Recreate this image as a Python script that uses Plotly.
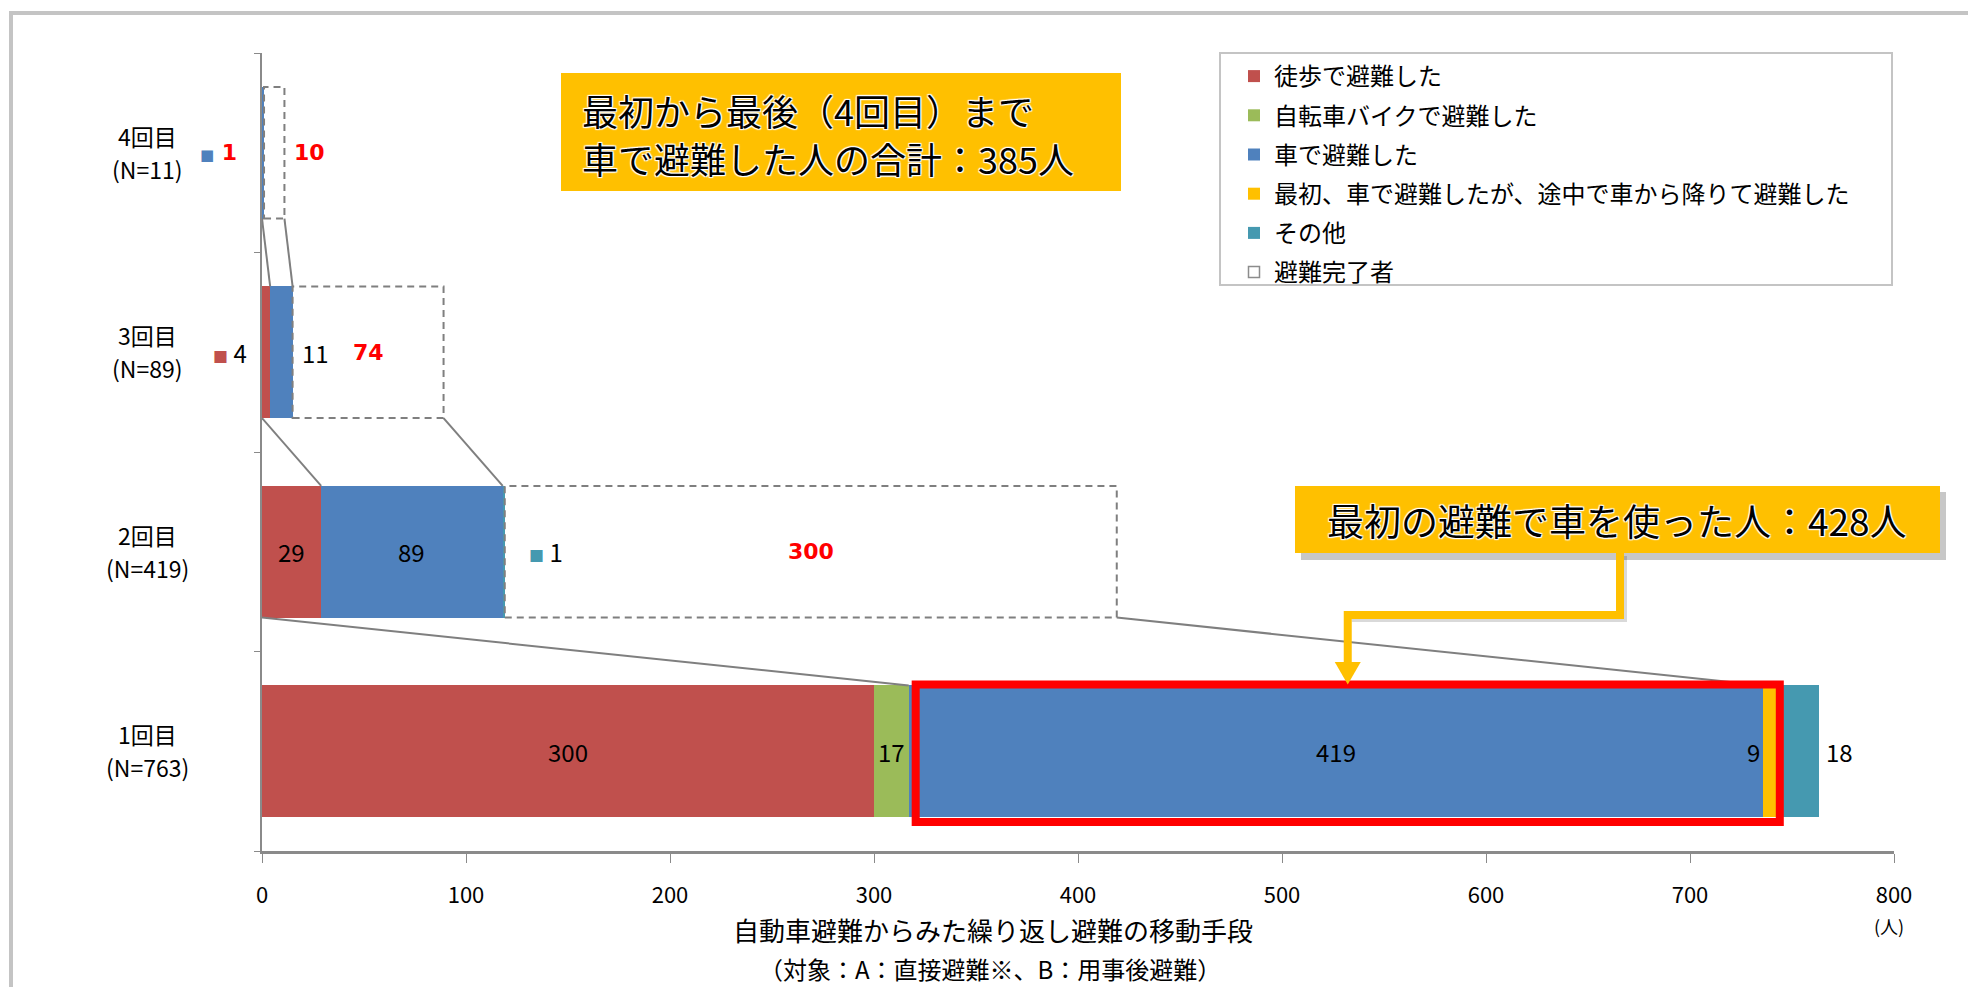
import numpy as np
import plotly.graph_objects as go

# ---- data -------------------------------------------------------------
rounds = ["1回目", "2回目", "3回目", "4回目"]
round_n = ["(N=763)", "(N=419)", "(N=89)", "(N=11)"]

walk = [300, 29, 4, 0]           # 徒歩で避難した
bike = [17, 0, 0, 0]             # 自転車バイクで避難した
car = [419, 89, 11, 1]           # 車で避難した
car_then_walk = [9, 0, 0, 0]     # 最初、車で避難したが、途中で車から降りて避難した
other = [18, 1, 0, 0]            # その他
completed = [0, 300, 74, 10]     # 避難完了者

series_names = [
    "徒歩で避難した",
    "自転車バイクで避難した",
    "車で避難した",
    "最初、車で避難したが、途中で車から降りて避難した",
    "その他",
    "避難完了者",
]
series_colors = ["#C0504D", "#9BBB59", "#4F81BD", "#FFC000", "#4599B0", "#FFFFFF"]

x_ticks = [0, 100, 200, 300, 400, 500, 600, 700, 800]
x_unit = "(人)"
axis_title = "自動車避難からみた繰り返し避難の移動手段"
axis_subtitle = "（対象：A：直接避難※、B：用事後避難）"
car_total_all_rounds = 385

# ---- geometry helpers -----------------------------------------------------
FIG_W, FIG_H = 1968, 987
L, R, T, B = 262, 74, 53, 136
W, H = FIG_W - L - R, FIG_H - T - B
X_MAX = 800
Y_RANGE = (-0.5, 3.5)
BW = 0.66
FONT = "Noto Sans CJK JP"
GRAY = "#7F7F7F"


def paper_x(px):
    return (px - L) / W


def paper_y(py):
    return (T + H - py) / H


def data_x(px):
    return (px - L) / W * X_MAX


def data_y(py):
    return Y_RANGE[0] + (T + H - py) / H * (Y_RANGE[1] - Y_RANGE[0])


def px_to_dx(n):
    return n / W * X_MAX


def px_to_dy(n):
    return n / H * (Y_RANGE[1] - Y_RANGE[0])


ypos = list(range(len(rounds)))
stack = np.array([walk, bike, car, car_then_walk, other, completed], dtype=float)
starts = np.cumsum(stack, axis=0) - stack
totals = stack.sum(axis=0)

fig = go.Figure()

# ---- stacked bars ---------------------------------------------------------
for k, (vals, name, color) in enumerate(zip(stack, series_names, series_colors)):
    fig.add_trace(go.Bar(
        y=ypos, x=vals, orientation="h", name=name, width=BW,
        marker=dict(color=color, line=dict(width=0)),
        legendgroup=f"g{k}",
        showlegend=(k < 5), hoverinfo="skip",
    ))

# legend entry for the dashed "completed" boxes
fig.add_trace(go.Scatter(
    x=[None], y=[None], mode="markers", name=series_names[5], legendgroup="g5b",
    marker=dict(symbol="square-open", size=11, color="#8C8C8C", line=dict(width=1.5)),
))

shapes = []

# outer frame of the chart area
shapes.append(dict(type="rect", xref="paper", yref="paper",
                   x0=paper_x(11), x1=paper_x(2100), y0=paper_y(1100), y1=paper_y(13),
                   line=dict(color="#C4C4C4", width=4), layer="below"))

# dashed outlines for evacuees who have finished
for i in ypos:
    if completed[i] > 0:
        x0 = starts[5][i]
        shapes.append(dict(type="rect", xref="x", yref="y",
                           x0=x0, x1=x0 + completed[i], y0=i - BW / 2, y1=i + BW / 2,
                           line=dict(color=GRAY, width=2, dash="7px,5px")))

# connector lines: each round's total links to the previous round's car segment
for i in ypos[:-1]:
    up = i + 1
    c0 = starts[2][i]
    c1 = c0 + car[i]
    for xa, xb in ((0, c0), (totals[up], c1)):
        shapes.append(dict(type="line", xref="x", yref="y",
                           x0=xa, y0=up - BW / 2, x1=xb, y1=i + BW / 2,
                           line=dict(color="#7F7F7F", width=2)))

# red frame around first-round car users
red_x0 = starts[2][0] + px_to_dx(7)
red_x1 = starts[3][0] + car_then_walk[0] - px_to_dx(2)
red_y0 = -BW / 2 - px_to_dy(5)
red_y1 = BW / 2 + px_to_dy(1)
shapes.append(dict(type="rect", xref="x", yref="y",
                   x0=red_x0, x1=red_x1, y0=red_y0, y1=red_y1,
                   line=dict(color="#FF0000", width=8)))

# top note box
shapes.append(dict(type="rect", xref="paper", yref="paper",
                   x0=paper_x(561), x1=paper_x(1121), y0=paper_y(191), y1=paper_y(73),
                   fillcolor="#FFC000", line=dict(width=0)))

# call-out box with its shadow
shapes.append(dict(type="rect", xref="paper", yref="paper",
                   x0=paper_x(1301), x1=paper_x(1946), y0=paper_y(560), y1=paper_y(492),
                   fillcolor="rgba(0,0,0,0.22)", line=dict(width=0)))
shapes.append(dict(type="rect", xref="paper", yref="paper",
                   x0=paper_x(1295), x1=paper_x(1940), y0=paper_y(553), y1=paper_y(486),
                   fillcolor="#FFC000", line=dict(width=0)))

# elbow connector from the call-out to the red frame
tip_x = (red_x0 + red_x1) / 2
elbow_x = data_x(1620)
shaft = (f"M{elbow_x},{data_y(553)} V{data_y(615)} H{tip_x} V{data_y(664)}")
shadow = (f"M{elbow_x + px_to_dx(4)},{data_y(556)} V{data_y(619)} "
          f"H{tip_x + px_to_dx(4)}")
shapes.append(dict(type="path", xref="x", yref="y", path=shadow,
                   line=dict(color="rgba(0,0,0,0.15)", width=6)))
shapes.append(dict(type="path", xref="x", yref="y", path=shaft,
                   line=dict(color="#FFC000", width=8)))
hw = px_to_dx(13)
shapes.append(dict(type="path", xref="x", yref="y",
                   path=(f"M{tip_x - hw},{data_y(662)} L{tip_x + hw},{data_y(662)} "
                         f"L{tip_x},{red_y1} Z"),
                   fillcolor="#FFC000", line=dict(width=0)))

# legend frame
shapes.append(dict(type="rect", xref="paper", yref="paper",
                   x0=paper_x(1220), x1=paper_x(1892), y0=paper_y(285), y1=paper_y(53),
                   line=dict(color="#C4C4C4", width=2), fillcolor="rgba(0,0,0,0)"))

# ---- annotations ----------------------------------------------------------
ann = []
LABEL_SIZE = 24
RED = "#FF0000"
RED_FONT = "DejaVu Sans"


def label(x, y, text, color="black", xanchor="center", xshift=0, size=LABEL_SIZE,
          family=FONT, weight="normal"):
    ann.append(dict(x=x, y=y, xref="x", yref="y", text=text, showarrow=False,
                    xanchor=xanchor, yanchor="middle", xshift=xshift,
                    font=dict(family=family, size=size, color=color, weight=weight)))


def square(color):
    return f"<span style='font-size:15px;font-weight:normal;fill:{color}'>■</span> "


def mid(k, i):
    return starts[k][i] + stack[k][i] / 2


# round 1
label(mid(0, 0), 0, f"{walk[0]}")
label(mid(1, 0), 0, f"{bike[0]}")
label(mid(2, 0), 0, f"{car[0]}")
label(starts[3][0], 0, f"{car_then_walk[0]}", xanchor="right", xshift=-1)
label(starts[4][0] + other[0], 0, f"{other[0]}", xanchor="left", xshift=5)
# round 2
label(mid(0, 1), 1, f"{walk[1]}")
label(mid(2, 1), 1, f"{car[1]}")
label(starts[4][1] + other[1], 1, square(series_colors[4]) + f"{other[1]}",
      xanchor="left", xshift=22)
label(mid(5, 1), 1, f"{completed[1]}", color=RED, family=RED_FONT, size=22, weight="bold")
# round 3
label(0, 2, square(series_colors[0]) + f"{walk[2]}", xanchor="right", xshift=-13)
label(starts[2][2] + car[2], 2, f"{car[2]}", xanchor="left", xshift=7)
label(mid(5, 2), 2, f"{completed[2]}", color=RED, family=RED_FONT, size=22, weight="bold")
# round 4
label(0, 3, square(series_colors[2]) + f"<span style='fill:{RED}'>{car[3]}</span>",
      xanchor="right", xshift=-23, family=RED_FONT, size=22, weight="bold")
label(starts[5][3] + completed[3], 3, f"{completed[3]}", xanchor="left", xshift=8,
      color=RED, family=RED_FONT, size=22, weight="bold")

# round labels on the category axis
for i, (r, n) in enumerate(zip(rounds, round_n)):
    for txt, dy in ((r, 17), (n, -16)):
        ann.append(dict(x=paper_x(147), y=i, xref="paper", yref="y", text=txt,
                        showarrow=False, xanchor="center", yanchor="middle", yshift=dy,
                        font=dict(family=FONT, size=23, color="black")))

halo = ("1px 1px 1px #fff, -1px -1px 1px #fff, 1px -1px 1px #fff, "
        "-1px 1px 1px #fff, 0 0 2px #fff")

# note boxes
note_lines = [("最初から最後（4回目）まで", 110),
              (f"車で避難した人の合計：{car_total_all_rounds}人", 158)]
for txt, py in note_lines:
    ann.append(dict(x=paper_x(580), y=paper_y(py), xref="paper", yref="paper",
                    text=txt, showarrow=False, xanchor="left", yanchor="middle",
                    font=dict(family=FONT, size=36, color="black", shadow=halo)))
ann.append(dict(x=paper_x(1617), y=paper_y(520), xref="paper", yref="paper",
                text=f"最初の避難で車を使った人：{car[0] + car_then_walk[0]}人",
                showarrow=False, xanchor="center", yanchor="middle",
                font=dict(family=FONT, size=37, color="black", shadow=halo)))

# axis titles
ann.append(dict(x=paper_x(993), y=paper_y(929), xref="paper", yref="paper",
                text=axis_title, showarrow=False, xanchor="center", yanchor="middle",
                font=dict(family=FONT, size=26, color="black")))
ann.append(dict(x=paper_x(990), y=paper_y(968), xref="paper", yref="paper",
                text=axis_subtitle, showarrow=False, xanchor="center", yanchor="middle",
                font=dict(family=FONT, size=24, color="black")))
ann.append(dict(x=paper_x(1889), y=paper_y(926), xref="paper", yref="paper",
                text=x_unit, showarrow=False, xanchor="center", yanchor="middle",
                font=dict(family=FONT, size=18, color="black")))

fig.update_layout(
    width=FIG_W, height=FIG_H,
    margin=dict(l=L, r=R, t=T, b=B),
    paper_bgcolor="white", plot_bgcolor="white",
    barmode="stack",
    font=dict(family=FONT, color="black"),
    xaxis=dict(range=[0, X_MAX], tickvals=x_ticks, showgrid=False, zeroline=False,
               showline=True, linecolor="#8A8A8A", linewidth=3,
               ticks="outside", ticklen=9, tickcolor="#8A8A8A", tickwidth=1,
               ticklabelstandoff=14, tickfont=dict(family=FONT, size=22, color="black")),
    yaxis=dict(range=list(Y_RANGE), tickvals=[-0.5, 0.5, 1.5, 2.5, 3.5],
               ticktext=["", "", "", "", ""], showgrid=False, zeroline=False,
               showline=True, linecolor="#8A8A8A", linewidth=2,
               ticks="outside", ticklen=6, tickcolor="#8A8A8A"),
    legend=dict(x=paper_x(1234), y=paper_y(54), xanchor="left", yanchor="top",
                bgcolor="rgba(0,0,0,0)", borderwidth=0,
                font=dict(family=FONT, size=24, color="black"),
                itemwidth=30, traceorder="grouped", tracegroupgap=5),
    shapes=shapes,
    annotations=ann,
    showlegend=True,
)

fig.write_html("out.html")
